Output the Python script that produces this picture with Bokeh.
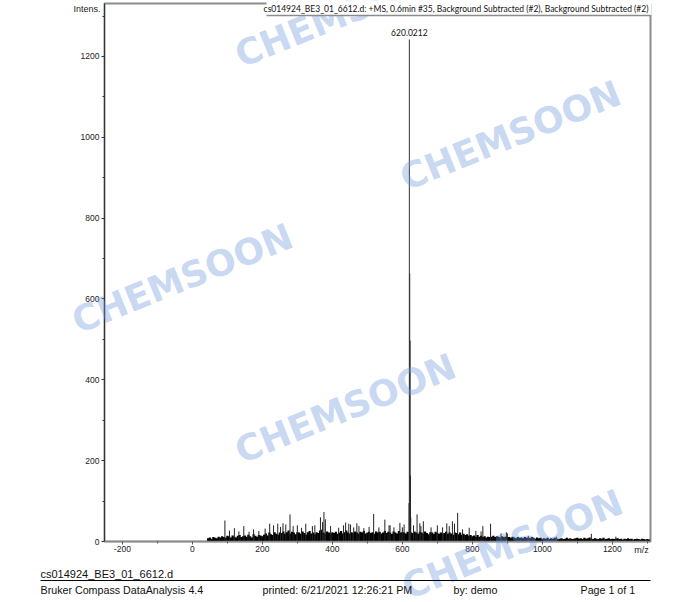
from bokeh.plotting import figure
from bokeh.models import Range1d, FixedTicker
from bokeh.layouts import column
from bokeh.embed import file_html
from bokeh.resources import INLINE
from bokeh.core.properties import value

# ---------------- data ----------------
x_major = [-200, 0, 200, 400, 600, 800, 1000, 1200]
x_minor = [-100, 100, 300, 500, 700, 900, 1100, 1300]
y_major = [0, 200, 400, 600, 800, 1000, 1200]
y_minor = [100, 300, 500, 700, 900, 1100, 1300]

noise_mz = list(range(45, 1310, 5))
noise_int = [
    8, 10, 7, 11, 9, 8, 12, 10,
    13, 11, 9, 14,
    13, 10, 15, 12, 10, 14, 16, 11, 13, 15,
    12, 17, 13, 10, 18, 14, 12, 16, 15, 13,
    17, 20, 15, 22, 18, 16, 23, 19, 17, 22,
    21, 25, 19, 23, 27, 20, 24, 22, 18, 23,
    22, 19, 25, 21, 17, 23, 26, 20, 22, 18,
    23, 21, 27, 29, 22, 19, 25, 22, 20, 23,
    21, 24, 19, 22, 26, 20, 23, 27, 22, 19,
    23, 21, 25, 22, 19, 24, 22, 26, 20, 22,
    24, 21, 23, 19, 25, 22, 24, 20, 22, 26,
    21, 24, 22, 19, 25, 22, 20, 26, 22, 23,
    22, 20, 24, 23, 22, 21, 25, 22, 19, 24,
    22, 20, 25, 21, 18, 23, 22, 19, 24, 21,
    19, 22, 18, 21, 24, 19, 22, 20, 17, 22,
    21, 18, 22, 17, 19, 16, 18, 14, 16, 13,
    15, 12, 16, 12, 14, 11, 13, 10, 12, 11,
    12, 14, 11, 13, 12, 10, 13, 11, 12, 10,
    11, 9, 12, 10, 8, 11, 9, 10, 8, 11,
    9, 10, 8, 11, 9, 7, 10, 8, 9, 7,
    8, 7, 9, 6, 8, 7, 9, 8, 6, 7,
    8, 6, 7, 9, 7, 8, 6, 7, 8, 9,
    7, 8, 6, 9, 7, 8, 10, 7, 6, 8,
    7, 6, 8, 7, 9, 6, 7, 8, 6, 7,
    6, 7, 8, 6, 7, 5, 7, 6, 8, 6,
    7, 5, 6, 7, 6, 5, 7, 6, 5, 6, 5,
]

spike_mz = [93, 106, 120, 133, 147, 162, 175, 190, 208, 221, 232, 244, 252,
            259, 267, 279, 288, 300, 312, 324, 343, 350, 366, 372, 376, 380,
            395, 418, 432, 438, 447, 452, 461, 470, 476, 490, 505, 518, 533,
            550, 562, 565, 576, 593, 600, 605, 619, 621.02, 622.02, 623.02,
            624, 632, 642, 650, 653, 660, 682, 700, 715, 727, 734, 743, 749,
            758, 772, 791, 810, 825, 830, 852, 882, 897, 900, 960, 1040,
            1140, 1210]
spike_int = [52, 27, 33, 25, 38, 24, 30, 26, 32, 44, 40, 44, 36,
             45, 42, 67, 38, 40, 34, 44, 38, 40, 60, 48, 73, 55,
             38, 34, 40, 47, 44, 42, 35, 45, 38, 33, 36, 68, 35,
             54, 40, 40, 35, 46, 35, 42, 95, 663, 497, 163,
             60, 40, 67, 45, 38, 50, 35, 40, 35, 45, 38, 50, 44,
             71, 30, 34, 26, 25, 38, 44, 20, 23, 20, 14, 12,
             19, 12]

peak_mz = [620.0212]
peak_int = [1242]
peak_text = ["620.0212"]

title_text = ("cs014924_BE3_01_6612.d: +MS, 0.6min #35, "
              "Background Subtracted (#2), Background Subtracted (#2)")
footer_top = "cs014924_BE3_01_6612.d"
footer_items = ["Bruker Compass DataAnalysis 4.4",
                "printed:   6/21/2021 12:26:21 PM",
                "by:   demo",
                "Page 1 of 1"]
watermark = "CHEMSOON"

# ---------------- main spectrum figure ----------------
W, H = 695, 602
L, R, T, B = 104, 45, 3, 61

p = figure(width=W, height=H, output_backend="svg", toolbar_location=None,
           x_range=Range1d(-251, 1309), y_range=Range1d(0, 1331),
           min_border_left=L, min_border_right=R,
           min_border_top=T, min_border_bottom=B)
p.frame_align = False
p.background_fill_color = "white"
p.border_fill_color = "white"
p.outline_line_color = "#8c8c8c"
p.outline_line_width = 2
p.xgrid.visible = False
p.ygrid.visible = False

p.xaxis.ticker = FixedTicker(ticks=x_major, minor_ticks=x_minor)
p.yaxis.ticker = FixedTicker(ticks=y_major, minor_ticks=y_minor)
p.xaxis.major_label_overrides = {-200: "-200"}
for ax in (p.xaxis[0], p.yaxis[0]):
    ax.major_label_text_font = "Liberation Sans"
    ax.major_label_text_font_size = "8.5px"
    ax.major_label_text_color = "#222222"
    ax.major_tick_in = 0
    ax.major_tick_out = 3
    ax.minor_tick_in = 0
    ax.minor_tick_out = 2
    ax.major_label_standoff = 2
p.xaxis.axis_line_color = "#8c8c8c"
p.xaxis.axis_line_width = 1.5
p.xaxis.major_tick_line_color = "#555555"
p.xaxis.minor_tick_line_color = "#555555"
p.xaxis.major_label_standoff = 1
p.yaxis.axis_line_color = "#333333"
p.yaxis.major_tick_line_color = "#333333"
p.yaxis.minor_tick_line_color = "#333333"

p.segment(x0=noise_mz, y0=[0] * len(noise_mz), x1=noise_mz, y1=noise_int,
          line_color="black", line_width=2.2)
p.segment(x0=spike_mz, y0=[0] * len(spike_mz), x1=spike_mz, y1=spike_int,
          line_color="#222222", line_width=1)
p.segment(x0=peak_mz, y0=[0], x1=peak_mz, y1=peak_int,
          line_color="#333333", line_width=1)
p.text(x=peak_mz, y=peak_int, text=peak_text, text_align="center",
       text_baseline="bottom", y_offset=-3, text_font=value("Lato"),
       text_font_size="8.5px", text_color="#111111")

# ---------------- page overlay (texts, watermarks) ----------------
ov = figure(width=W, height=H, output_backend="svg", toolbar_location=None,
            x_range=Range1d(0, W), y_range=Range1d(0, H),
            x_axis_type=None, y_axis_type=None, min_border=0)
ov.frame_align = False
ov.background_fill_alpha = 0
ov.border_fill_alpha = 0
ov.outline_line_color = None
ov.xgrid.visible = False
ov.ygrid.visible = False
ov.styles = {"margin-top": f"-{H}px"}

def py(y):
    return H - y

wm_x = [345, 510, 182, 345, 512]
wm_y = [12, 135, 278, 408, 544]
ov.text(x=wm_x, y=[py(v) for v in wm_y], text=[watermark] * len(wm_x),
        angle=0.384, text_align="center", text_baseline="middle",
        text_font=value("DejaVu Sans"), text_font_style="bold",
        text_font_size="36px", text_color="#6f9ade", text_alpha=0.4)

# title box
ov.quad(left=[266], right=[651], bottom=[py(14.5)], top=[py(0)],
        fill_color="white", line_color=None)
ov.segment(x0=[266], y0=[py(15)], x1=[650], y1=[py(15)],
           line_color="#8c8c8c", line_width=1.5)
ov.text(x=[648], y=[py(8)], text=[title_text], text_align="right",
        text_baseline="middle", text_font=value("Lato"),
        text_font_size="8.5px", text_color="#111111")

ov.text(x=[100], y=[py(8)], text=["Intens."], text_align="right",
        text_baseline="middle", text_font=value("Liberation Sans"),
        text_font_size="9px", text_color="#222222")
ov.text(x=[641], y=[py(549)], text=["m/z"], text_align="center",
        text_baseline="middle", text_font=value("Liberation Sans"),
        text_font_size="9px", text_color="#222222")

ov.text(x=[40], y=[py(573)], text=[footer_top], text_baseline="middle",
        text_font=value("Liberation Sans"), text_font_size="11px",
        text_color="#111111")
ov.segment(x0=[40], y0=[py(580)], x1=[650], y1=[py(580)],
           line_color="black", line_width=1)
ov.text(x=[40, 262, 453, 580], y=[py(589)] * 4, text=footer_items,
        text_baseline="middle", text_font=value("Liberation Sans"),
        text_font_size="10.7px", text_color="#111111")

layout = column(p, ov)
open("out.html", "w").write(file_html(layout, INLINE))
